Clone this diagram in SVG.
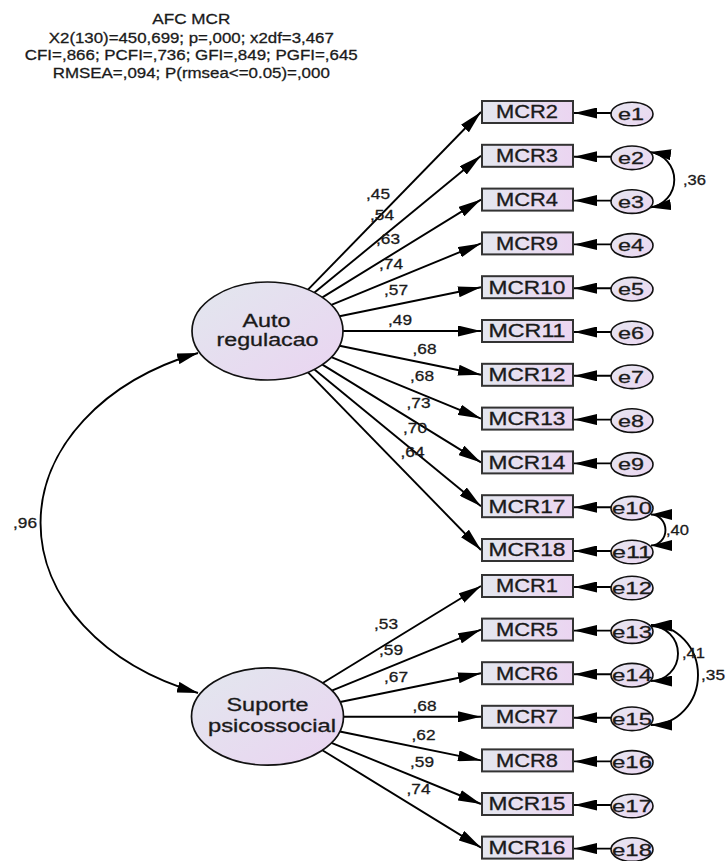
<svg xmlns="http://www.w3.org/2000/svg" width="728" height="861" viewBox="0 0 728 861">
<style>
text{font-family:"Liberation Sans",Arial,sans-serif;fill:#1a1a1a;stroke:#1a1a1a;stroke-width:0.3}
.t{font-size:15.5px;text-anchor:middle}
.bl{font-size:17.5px;text-anchor:middle}
.el{font-size:17px;text-anchor:middle}
.ll{font-size:17.5px;text-anchor:middle}
.pl{font-size:15px}
.box{fill:url(#gb);stroke:#333;stroke-width:2}
.err{fill:url(#ge);stroke:#111;stroke-width:1.6}
.lat{fill:url(#gl);stroke:#111;stroke-width:1.7}
.ar{fill:none;stroke:#000;stroke-width:1.9;marker-end:url(#ah)}
.cv{fill:none;stroke:#000;stroke-width:1.9;marker-start:url(#ch);marker-end:url(#ch)}
</style>
<defs>
<linearGradient id="gb" x1="0" y1="0" x2="1" y2="0"><stop offset="0" stop-color="#e4e7ef"/><stop offset="1" stop-color="#ebd5f1"/></linearGradient>
<linearGradient id="ge" x1="0" y1="0" x2="1" y2="1"><stop offset="0" stop-color="#e6e6f0"/><stop offset="1" stop-color="#ebd6f1"/></linearGradient>
<linearGradient id="gl" x1="0" y1="0" x2="1" y2="1"><stop offset="0" stop-color="#e2e7ee"/><stop offset="1" stop-color="#ead4f1"/></linearGradient>
<marker id="ah" markerUnits="userSpaceOnUse" viewBox="0 0 23 11" markerWidth="23" markerHeight="11" refX="23" refY="5.5" orient="auto"><path d="M0,0 L23,5.5 L0,11 z" fill="#000"/></marker>
<marker id="ch" markerUnits="userSpaceOnUse" viewBox="0 0 21 11" markerWidth="21" markerHeight="11" refX="21" refY="5.5" orient="auto-start-reverse"><path d="M0,0 L21,5.5 L0,11 z" fill="#000"/></marker>
</defs>

<g id="title">
<text class="t" x="191.3" y="24" textLength="78" lengthAdjust="spacingAndGlyphs">AFC MCR</text>
<text class="t" x="191.3" y="42.5" textLength="285" lengthAdjust="spacingAndGlyphs">X2(130)=450,699; p=,000; x2df=3,467</text>
<text class="t" x="191.3" y="60" textLength="333" lengthAdjust="spacingAndGlyphs">CFI=,866; PCFI=,736; GFI=,849; PGFI=,645</text>
<text class="t" x="191.3" y="77.5" textLength="277" lengthAdjust="spacingAndGlyphs">RMSEA=,094; P(rmsea&lt;=0.05)=,000</text>
</g>

<g id="connectors">
<path class="ar" d="M308,289.7 L481,112"/>
<path class="ar" d="M314.5,292.6 L481,155.8"/>
<path class="ar" d="M322.4,297.4 L481,199.6"/>
<path class="ar" d="M331.4,304.9 L481,243.4"/>
<path class="ar" d="M339.5,316.3 L481,287.2"/>
<path class="ar" d="M343,331 L481,331"/>
<path class="ar" d="M339.5,345.7 L481,374.8"/>
<path class="ar" d="M331.4,357.1 L481,418.6"/>
<path class="ar" d="M322.4,364.6 L481,462.4"/>
<path class="ar" d="M314.5,369.4 L481,506.2"/>
<path class="ar" d="M308,372.3 L481,550"/>
<path class="ar" d="M322.7,683 L481,586"/>
<path class="ar" d="M331.8,690.6 L481,629.6"/>
<path class="ar" d="M340.1,702 L481,673.2"/>
<path class="ar" d="M343.5,716.8 L481,716.8"/>
<path class="ar" d="M339.8,731.5 L481,760.4"/>
<path class="ar" d="M331.5,742.8 L481,804"/>
<path class="ar" d="M322.4,750.2 L481,847.6"/>
<path class="ar" d="M611,113 L574,113"/>
<path class="ar" d="M611,156.8 L574,156.8"/>
<path class="ar" d="M611,200.6 L574,200.6"/>
<path class="ar" d="M611,244.4 L574,244.4"/>
<path class="ar" d="M611,288.2 L574,288.2"/>
<path class="ar" d="M611,332 L574,332"/>
<path class="ar" d="M611,375.8 L574,375.8"/>
<path class="ar" d="M611,419.6 L574,419.6"/>
<path class="ar" d="M611,463.4 L574,463.4"/>
<path class="ar" d="M611,507.2 L574,507.2"/>
<path class="ar" d="M611,551 L574,551"/>
<path class="ar" d="M611,587 L574,587"/>
<path class="ar" d="M611,630.6 L574,630.6"/>
<path class="ar" d="M611,674.2 L574,674.2"/>
<path class="ar" d="M611,717.8 L574,717.8"/>
<path class="ar" d="M611,761.4 L574,761.4"/>
<path class="ar" d="M611,805 L574,805"/>
<path class="ar" d="M611,848.6 L574,848.6"/>
<path class="cv" d="M198,353 A250,183 0 0 0 198,693"/>
<path class="cv" d="M650,152 A28,28 0 0 1 650,207.5"/>
<path class="cv" d="M651,514.5 A14,15 0 0 1 651,545.5"/>
<path class="cv" d="M651,626 A27,27.5 0 0 1 651,681"/>
<path class="cv" d="M651,625 A47,50 0 0 1 651,725"/>
</g>

<g id="labels">
<text class="pl" x="366" y="198.5" textLength="24" lengthAdjust="spacingAndGlyphs">,45</text>
<text class="pl" x="370" y="220" textLength="24" lengthAdjust="spacingAndGlyphs">,54</text>
<text class="pl" x="376" y="243.5" textLength="24" lengthAdjust="spacingAndGlyphs">,63</text>
<text class="pl" x="379" y="268.5" textLength="24" lengthAdjust="spacingAndGlyphs">,74</text>
<text class="pl" x="384" y="295" textLength="24" lengthAdjust="spacingAndGlyphs">,57</text>
<text class="pl" x="388" y="325" textLength="24" lengthAdjust="spacingAndGlyphs">,49</text>
<text class="pl" x="412.5" y="353.5" textLength="24" lengthAdjust="spacingAndGlyphs">,68</text>
<text class="pl" x="410" y="381" textLength="24" lengthAdjust="spacingAndGlyphs">,68</text>
<text class="pl" x="406.5" y="408" textLength="24" lengthAdjust="spacingAndGlyphs">,73</text>
<text class="pl" x="403" y="433" textLength="24" lengthAdjust="spacingAndGlyphs">,70</text>
<text class="pl" x="400.5" y="457" textLength="24" lengthAdjust="spacingAndGlyphs">,64</text>
<text class="pl" x="374" y="628.5" textLength="24" lengthAdjust="spacingAndGlyphs">,53</text>
<text class="pl" x="379" y="655" textLength="24" lengthAdjust="spacingAndGlyphs">,59</text>
<text class="pl" x="384" y="682" textLength="24" lengthAdjust="spacingAndGlyphs">,67</text>
<text class="pl" x="412.5" y="711" textLength="24" lengthAdjust="spacingAndGlyphs">,68</text>
<text class="pl" x="411.5" y="739.5" textLength="24" lengthAdjust="spacingAndGlyphs">,62</text>
<text class="pl" x="410" y="767" textLength="24" lengthAdjust="spacingAndGlyphs">,59</text>
<text class="pl" x="406.5" y="793.5" textLength="24" lengthAdjust="spacingAndGlyphs">,74</text>
<text class="pl" x="13" y="528" textLength="24" lengthAdjust="spacingAndGlyphs">,96</text>
<text class="pl" x="683" y="185" textLength="23" lengthAdjust="spacingAndGlyphs">,36</text>
<text class="pl" x="666" y="535" textLength="23" lengthAdjust="spacingAndGlyphs">,40</text>
<text class="pl" x="682" y="658" textLength="23" lengthAdjust="spacingAndGlyphs">,41</text>
<text class="pl" x="701" y="680" textLength="24" lengthAdjust="spacingAndGlyphs">,35</text>
</g>

<g id="Auto_regulacao"><ellipse class="lat" cx="267.5" cy="331" rx="75.5" ry="49"/><text class="ll" x="266.5" y="327" textLength="48" lengthAdjust="spacingAndGlyphs">Auto</text><text class="ll" x="267.5" y="345.5" textLength="102" lengthAdjust="spacingAndGlyphs">regulacao</text></g>
<g id="Suporte_psicossocial"><ellipse class="lat" cx="267.5" cy="716.5" rx="76" ry="48.7"/><text class="ll" x="267.5" y="711" textLength="82" lengthAdjust="spacingAndGlyphs">Suporte</text><text class="ll" x="272" y="731.5" textLength="128" lengthAdjust="spacingAndGlyphs">psicossocial</text></g>

<g id="MCR2"><rect class="box" x="482" y="101" width="91" height="22"/><text class="bl" x="527" y="118.3" textLength="62" lengthAdjust="spacingAndGlyphs">MCR2</text></g>
<g id="MCR3"><rect class="box" x="482" y="144.8" width="91" height="22"/><text class="bl" x="527" y="162.1" textLength="62" lengthAdjust="spacingAndGlyphs">MCR3</text></g>
<g id="MCR4"><rect class="box" x="482" y="188.6" width="91" height="22"/><text class="bl" x="527" y="205.9" textLength="62" lengthAdjust="spacingAndGlyphs">MCR4</text></g>
<g id="MCR9"><rect class="box" x="482" y="232.4" width="91" height="22"/><text class="bl" x="527" y="249.7" textLength="62" lengthAdjust="spacingAndGlyphs">MCR9</text></g>
<g id="MCR10"><rect class="box" x="482" y="276.2" width="91" height="22"/><text class="bl" x="527" y="293.5" textLength="77" lengthAdjust="spacingAndGlyphs">MCR10</text></g>
<g id="MCR11"><rect class="box" x="482" y="320" width="91" height="22"/><text class="bl" x="527" y="337.3" textLength="77" lengthAdjust="spacingAndGlyphs">MCR11</text></g>
<g id="MCR12"><rect class="box" x="482" y="363.8" width="91" height="22"/><text class="bl" x="527" y="381.1" textLength="77" lengthAdjust="spacingAndGlyphs">MCR12</text></g>
<g id="MCR13"><rect class="box" x="482" y="407.6" width="91" height="22"/><text class="bl" x="527" y="424.9" textLength="77" lengthAdjust="spacingAndGlyphs">MCR13</text></g>
<g id="MCR14"><rect class="box" x="482" y="451.4" width="91" height="22"/><text class="bl" x="527" y="468.7" textLength="77" lengthAdjust="spacingAndGlyphs">MCR14</text></g>
<g id="MCR17"><rect class="box" x="482" y="495.2" width="91" height="22"/><text class="bl" x="527" y="512.5" textLength="77" lengthAdjust="spacingAndGlyphs">MCR17</text></g>
<g id="MCR18"><rect class="box" x="482" y="539" width="91" height="22"/><text class="bl" x="527" y="556.3" textLength="77" lengthAdjust="spacingAndGlyphs">MCR18</text></g>
<g id="MCR1"><rect class="box" x="482" y="575" width="91" height="22"/><text class="bl" x="527" y="592.3" textLength="62" lengthAdjust="spacingAndGlyphs">MCR1</text></g>
<g id="MCR5"><rect class="box" x="482" y="618.6" width="91" height="22"/><text class="bl" x="527" y="635.9" textLength="62" lengthAdjust="spacingAndGlyphs">MCR5</text></g>
<g id="MCR6"><rect class="box" x="482" y="662.2" width="91" height="22"/><text class="bl" x="527" y="679.5" textLength="62" lengthAdjust="spacingAndGlyphs">MCR6</text></g>
<g id="MCR7"><rect class="box" x="482" y="705.8" width="91" height="22"/><text class="bl" x="527" y="723.1" textLength="62" lengthAdjust="spacingAndGlyphs">MCR7</text></g>
<g id="MCR8"><rect class="box" x="482" y="749.4" width="91" height="22"/><text class="bl" x="527" y="766.7" textLength="62" lengthAdjust="spacingAndGlyphs">MCR8</text></g>
<g id="MCR15"><rect class="box" x="482" y="793" width="91" height="22"/><text class="bl" x="527" y="810.3" textLength="77" lengthAdjust="spacingAndGlyphs">MCR15</text></g>
<g id="MCR16"><rect class="box" x="482" y="836.6" width="91" height="22"/><text class="bl" x="527" y="853.9" textLength="77" lengthAdjust="spacingAndGlyphs">MCR16</text></g>

<g id="e1"><ellipse class="err" cx="632" cy="114" rx="21" ry="11.8"/><text class="el" x="631" y="120" textLength="26" lengthAdjust="spacingAndGlyphs">e1</text></g>
<g id="e2"><ellipse class="err" cx="632" cy="157.8" rx="21" ry="11.8"/><text class="el" x="631" y="163.8" textLength="26" lengthAdjust="spacingAndGlyphs">e2</text></g>
<g id="e3"><ellipse class="err" cx="632" cy="201.6" rx="21" ry="11.8"/><text class="el" x="631" y="207.6" textLength="26" lengthAdjust="spacingAndGlyphs">e3</text></g>
<g id="e4"><ellipse class="err" cx="632" cy="245.4" rx="21" ry="11.8"/><text class="el" x="631" y="251.4" textLength="26" lengthAdjust="spacingAndGlyphs">e4</text></g>
<g id="e5"><ellipse class="err" cx="632" cy="289.2" rx="21" ry="11.8"/><text class="el" x="631" y="295.2" textLength="26" lengthAdjust="spacingAndGlyphs">e5</text></g>
<g id="e6"><ellipse class="err" cx="632" cy="333" rx="21" ry="11.8"/><text class="el" x="631" y="339" textLength="26" lengthAdjust="spacingAndGlyphs">e6</text></g>
<g id="e7"><ellipse class="err" cx="632" cy="376.8" rx="21" ry="11.8"/><text class="el" x="631" y="382.8" textLength="26" lengthAdjust="spacingAndGlyphs">e7</text></g>
<g id="e8"><ellipse class="err" cx="632" cy="420.6" rx="21" ry="11.8"/><text class="el" x="631" y="426.6" textLength="26" lengthAdjust="spacingAndGlyphs">e8</text></g>
<g id="e9"><ellipse class="err" cx="632" cy="464.4" rx="21" ry="11.8"/><text class="el" x="631" y="470.4" textLength="26" lengthAdjust="spacingAndGlyphs">e9</text></g>
<g id="e10"><ellipse class="err" cx="632" cy="508.2" rx="21" ry="11.8"/><text class="el" x="632" y="514.2" textLength="40" lengthAdjust="spacingAndGlyphs">e10</text></g>
<g id="e11"><ellipse class="err" cx="632" cy="552" rx="21" ry="11.8"/><text class="el" x="632" y="558" textLength="40" lengthAdjust="spacingAndGlyphs">e11</text></g>
<g id="e12"><ellipse class="err" cx="632" cy="588" rx="21" ry="11.8"/><text class="el" x="632" y="594" textLength="40" lengthAdjust="spacingAndGlyphs">e12</text></g>
<g id="e13"><ellipse class="err" cx="632" cy="631.6" rx="21" ry="11.8"/><text class="el" x="632" y="637.6" textLength="40" lengthAdjust="spacingAndGlyphs">e13</text></g>
<g id="e14"><ellipse class="err" cx="632" cy="675.2" rx="21" ry="11.8"/><text class="el" x="632" y="681.2" textLength="40" lengthAdjust="spacingAndGlyphs">e14</text></g>
<g id="e15"><ellipse class="err" cx="632" cy="718.8" rx="21" ry="11.8"/><text class="el" x="632" y="724.8" textLength="40" lengthAdjust="spacingAndGlyphs">e15</text></g>
<g id="e16"><ellipse class="err" cx="632" cy="762.4" rx="21" ry="11.8"/><text class="el" x="632" y="768.4" textLength="40" lengthAdjust="spacingAndGlyphs">e16</text></g>
<g id="e17"><ellipse class="err" cx="632" cy="806" rx="21" ry="11.8"/><text class="el" x="632" y="812" textLength="40" lengthAdjust="spacingAndGlyphs">e17</text></g>
<g id="e18"><ellipse class="err" cx="632" cy="849.6" rx="21" ry="11.8"/><text class="el" x="632" y="855.6" textLength="40" lengthAdjust="spacingAndGlyphs">e18</text></g>
</svg>
